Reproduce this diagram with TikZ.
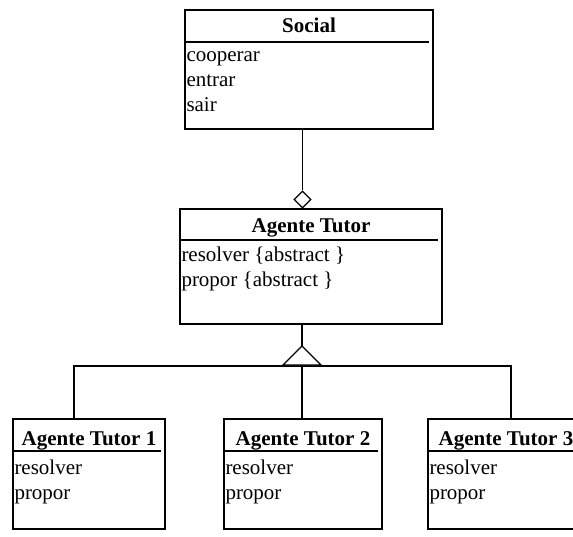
\documentclass[tikz,border=0pt]{standalone}
\usepackage{fontspec}
\setmainfont{Liberation Serif}
\usetikzlibrary{shapes.geometric}
\begin{document}
\begin{tikzpicture}[x=1pt,y=-1pt,
  classbox/.style={draw, line width=1.4pt, fill=white, inner sep=0pt, rectangle},
  sepline/.style={line width=1.8pt},
  link/.style={line width=1.4pt},
  titletext/.style={font=\fontsize{21}{25}\selectfont\bfseries, inner sep=0pt, anchor=base},
  itemtext/.style={font=\fontsize{21}{25}\selectfont, inner sep=0pt, anchor=base west}]
\useasboundingbox (0,0) rectangle (573,536);
\clip (0,0) rectangle (573,536);

% class Social
\node[classbox, minimum width=248pt, minimum height=119pt] (social) at (309,69.5) {};
\draw[sepline] ([yshift=-33pt]social.north west) -- ([yshift=-33pt,xshift=-5pt]social.north east);
\node[titletext] (socialname) at ([yshift=-23pt]social.north) {Social};
\node[itemtext] (sop1) at ([xshift=2pt,yshift=-52pt]social.north west) {cooperar};
\node[itemtext] (sop2) at ([xshift=2pt,yshift=-77pt]social.north west) {entrar};
\node[itemtext] (sop3) at ([xshift=2pt,yshift=-102pt]social.north west) {sair};

% abstract class Agente Tutor
\node[classbox, minimum width=262pt, minimum height=115pt] (tutor) at (311,266.5) {};
\draw[sepline] ([yshift=-32pt]tutor.north west) -- ([yshift=-32pt,xshift=-5pt]tutor.north east);
\node[titletext] (tutorname) at ([yshift=-24pt]tutor.north) {Agente Tutor};
\node[itemtext] (top1) at ([xshift=2pt,yshift=-53pt]tutor.north west) {resolver \{abstract \}};
\node[itemtext] (top2) at ([xshift=2pt,yshift=-78pt]tutor.north west) {propor \{abstract \}};

% concrete tutors
\node[classbox, minimum width=152pt, minimum height=110pt] (t1) at (89,474) {};
\node[classbox, minimum width=158pt, minimum height=110pt] (t2) at (303,474) {};
\node[classbox, minimum width=156pt, minimum height=110pt] (t3) at (506,474) {};
\foreach \b/\n in {t1/1,t2/2,t3/3}{
  \draw[sepline] ([yshift=-33pt]\b.north west) -- ([yshift=-33pt,xshift=-5pt]\b.north east);
  \node[titletext] (\b name) at ([yshift=-27pt]\b.north) {Agente Tutor \n};
  \node[itemtext] (\b op1) at ([xshift=2pt,yshift=-56pt]\b.north west) {resolver};
  \node[itemtext] (\b op2) at ([xshift=2pt,yshift=-81pt]\b.north west) {propor};
}

% aggregation: Social -- Agente Tutor
\node[diamond, draw, line width=1.3pt, fill=white, inner sep=0pt,
      minimum width=17pt, minimum height=17pt] (agg) at (302.5,199.5) {};
\draw[link] (social.south -| agg) -- (agg.north);

% generalization tree
\coordinate (genapex) at (302,346);
\coordinate (genbase) at (302,366);
\coordinate (j1) at (74,366);
\coordinate (j3) at (511,366);
\draw[link] (tutor.south -| genapex) -- (genapex);
\draw[link] (j1 |- t1.north) -- (j1) -- (j3) -- (j3 |- t3.north);
\draw[link] (genbase) -- (genbase |- t2.north);
\draw[link, fill=white, line join=miter] (genapex) -- ++(-19,19) -- ++(38,0) -- cycle;
\end{tikzpicture}
\end{document}
